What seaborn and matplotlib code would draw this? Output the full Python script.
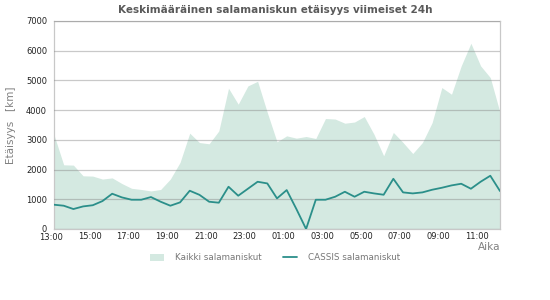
import numpy as np
import pandas as pd
import matplotlib
matplotlib.use("Agg")
import matplotlib.pyplot as plt
import matplotlib.dates as mdates
import matplotlib.transforms as mtransforms
from matplotlib.patches import Patch
from matplotlib.lines import Line2D
import seaborn as sns

title = "Keskimääräinen salamaniskun etäisyys viimeiset 24h"
y_label = "Etäisyys   [km]"
x_label = "Aika"
series_names = ["Kaikki salamaniskut", "CASSIS salamaniskut"]

# 30-minute sampling times
times = pd.date_range("2024-06-01 13:10", periods=47, freq="30min")
first_label_time = pd.Timestamp("2024-06-01 13:00")

kaikki = [3170, 2160, 2150, 1790, 1780, 1680, 1720, 1530, 1370, 1330,
          1280, 1330, 1680, 2240, 3225, 2910, 2867, 3300, 4737, 4200,
          4815, 4970, 3920, 2934, 3135, 3057, 3113, 3046, 3718, 3700,
          3560, 3600, 3785, 3190, 2464, 3250, 2910, 2540, 2910, 3580,
          4760, 4535, 5490, 6250, 5490, 5095, 3920]

cassis = [817, 784, 672, 760, 800, 940, 1187, 1064, 985, 985,
          1075, 918, 784, 896, 1288, 1150, 918, 885, 1422, 1120,
          1355, 1590, 1534, 1030, 1310, 672, 0, 985, 985, 1086,
          1254, 1086, 1254, 1198, 1153, 1690, 1232, 1198, 1232, 1321,
          1388, 1467, 1523, 1355, 1590, 1792, 1277]

y_ticks = [0, 1000, 2000, 3000, 4000, 5000, 6000, 7000]

sns.set_style("white")
plt.rcParams["font.family"] = ["DejaVu Sans"]

fill_color = "#d4e9e1"
line_color = "#2b8f8a"

fig = plt.figure(figsize=(5.5, 3.0), dpi=100)
ax = fig.add_axes([54 / 550, 1 - 229 / 300, (500 - 54) / 550, (229 - 21) / 300])

df = pd.DataFrame({"Aika": times, "Kaikki": kaikki, "CASSIS": cassis})

ax.fill_between(df["Aika"], df["Kaikki"], 0, color=fill_color, lw=0, zorder=1)
sns.lineplot(data=df, x="Aika", y="CASSIS", ax=ax, color=line_color,
             linewidth=1.3, zorder=4)

ax.set_xlim(times[0], times[-1])
ax.set_ylim(0, 7000)
ax.set_yticks(y_ticks)

ax.set_axisbelow(False)
ax.yaxis.grid(True, color="#888888", alpha=0.45, linewidth=0.9)
ax.xaxis.grid(False)

ax.xaxis.set_major_locator(mdates.HourLocator(byhour=range(1, 24, 2)))
ax.xaxis.set_minor_locator(mdates.MinuteLocator(byminute=[0, 30]))
ax.xaxis.set_major_formatter(mdates.DateFormatter("%H:%M"))

ax.tick_params(axis="y", direction="out", length=4, width=0.8, color="black",
               labelsize=6, labelcolor="#222222", pad=1)
ax.tick_params(axis="x", which="major", direction="in", length=4, width=0.8,
               color="black", labelsize=6, labelcolor="#222222", pad=2)
ax.tick_params(axis="x", which="minor", direction="in", length=2.5, width=0.8,
               color="black")

# the 13:00 label sits just left of the plotted range
trans = mtransforms.blended_transform_factory(ax.transData, ax.transAxes)
ax.text(mdates.date2num(first_label_time), 0, first_label_time.strftime("%H:%M"),
        transform=trans + mtransforms.ScaledTranslation(0, -3 / 72, fig.dpi_scale_trans),
        ha="center", va="top", fontsize=6, color="#222222", clip_on=False)

for s in ax.spines.values():
    s.set_color("#c8c8c8")
    s.set_linewidth(0.9)

ax.set_xlabel("")
ax.set_ylabel("")

fig.text(0.5, 0.968, title, ha="center", va="center", fontsize=7.5,
         fontweight="bold", color="#5a5a5a")
fig.text(0.02, 1 - 125 / 300, y_label, rotation=90, ha="center", va="center",
         fontsize=7.5, color="#808080")
fig.text(500 / 550, 1 - 247 / 300, x_label, ha="right", va="center",
         fontsize=7.5, color="#808080")

handles = [Patch(facecolor=fill_color, edgecolor="none"),
           Line2D([0], [0], color=line_color, linewidth=1.3)]
leg = fig.legend(handles, series_names, loc="center", bbox_to_anchor=(0.5, 1 - 258 / 300),
                 ncol=2, frameon=False, fontsize=6.3, handlelength=1.6,
                 handleheight=1.0, columnspacing=2.5, handletextpad=1.2)
for t in leg.get_texts():
    t.set_color("#777777")

fig.savefig("out.png", dpi=100)
